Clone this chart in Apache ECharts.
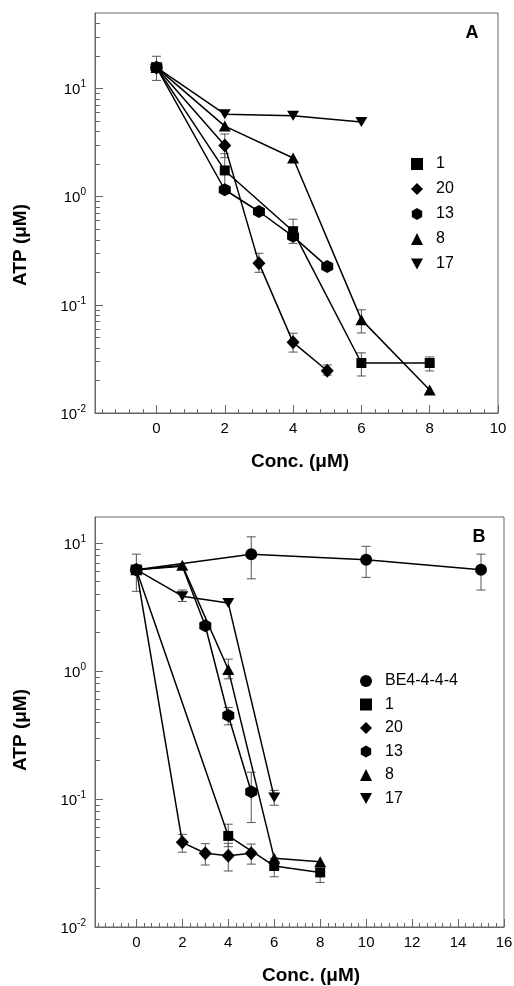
<!DOCTYPE html>
<html>
<head>
<meta charset="utf-8">
<script src="https://cdn.jsdelivr.net/npm/echarts@6/dist/echarts.min.js"></script>
<style>
html, body { margin: 0; padding: 0; background: #fff; }
#main { width: 514px; height: 986px; }
</style>
</head>
<body>
<div id="main"></div>
<script>
var chart = echarts.init(document.getElementById('main'));

// ---- panel A ----
var aX1 = [0, 2, 4, 6, 8];
var aY1 = [15.7, 1.75, 0.48, 0.029, 0.029];
var aE1 = [[11.9, 19.9], [1.25, 2.5], [0.37, 0.62], [0.022, 0.036], [0.0245, 0.033]];

var aX20 = [0, 2, 3, 4, 5];
var aY20 = [15.7, 2.97, 0.243, 0.045, 0.0246];
var aE20 = [null, [2.3, 3.8], [0.2, 0.3], [0.0366, 0.0547], [0.0224, 0.0278]];

var aX13 = [0, 2, 3, 4, 5];
var aY13 = [15.7, 1.16, 0.73, 0.43, 0.226];

var aX8 = [0, 2, 4, 6, 8];
var aY8 = [15.7, 4.5, 2.28, 0.073, 0.0163];
var aE8 = [null, null, null, [0.055, 0.09], null];

var aX17 = [0, 2, 4, 6];
var aY17 = [15.7, 5.8, 5.6, 4.9];

// ---- panel B ----
var bXBE = [0, 5, 10, 15];
var bYBE = [6.2, 8.2, 7.4, 6.2];
var bEBE = [[4.2, 8.2], [5.26, 11.2], [5.4, 9.44], [4.3, 8.2]];

var bX1 = [0, 4, 6, 8];
var bY1 = [6.2, 0.0515, 0.030, 0.0267];
var bE1 = [null, [0.0424, 0.0636], [0.0247, 0.0344], [0.0223, 0.0296]];

var bX20 = [0, 2, 3, 4, 5];
var bY20 = [6.2, 0.0459, 0.0377, 0.0361, 0.0377];
var bE20 = [null, [0.0384, 0.053], [0.0305, 0.0448], [0.0274, 0.0451], [0.031, 0.0445]];

var bX13 = [0, 2, 3, 4, 5];
var bY13 = [6.2, 6.6, 2.26, 0.45, 0.114];
var bE13 = [null, null, null, [0.38, 0.52], [0.0655, 0.162]];

var bX8 = [0, 2, 4, 6, 8];
var bY8 = [6.2, 6.7, 1.03, 0.0344, 0.0324];
var bE8 = [null, null, [0.87, 1.24], null, null];

var bX17 = [0, 2, 4, 6];
var bY17 = [6.2, 3.85, 3.4, 0.103];
var bE17 = [null, [3.5, 4.3], null, [0.0895, 0.117]];

// axis labels
var yLabelVals = [0.01, 0.1, 1, 10];
var xLabelsA = [0, 2, 4, 6, 8, 10];
var xLabelsB = [0, 2, 4, 6, 8, 10, 12, 14, 16];

var FONT = 'Liberation Sans, Arial, sans-serif';
var AXC = '#666';
var HEX = 'path://M5,0L9.33,2.5L9.33,7.5L5,10L0.67,7.5L0.67,2.5Z';
var TRI_DOWN = 'path://M0,0L10,0L5,9Z';

// log minor ticks: 2..9 times each decade
function logMinor(lo, hi) {
    var out = [];
    for (var d = -3; d <= 2; d++) {
        for (var k = 2; k <= 9; k++) {
            var v = k * Math.pow(10, d);
            if (v > lo && v < hi) out.push(v);
        }
    }
    return out;
}
function linMinor(lo, hi, step, major) {
    var out = [];
    for (var i = -20; i <= 100; i++) {
        var v = Math.round(i * step * 1000) / 1000;
        if (v > lo && v < hi && major.indexOf(v) < 0) out.push(v);
    }
    return out;
}

function pairs(xs, ys) {
    return xs.map(function (x, i) { return [x, ys[i]]; });
}
function errs(xs, es) {
    var out = [];
    xs.forEach(function (x, i) {
        if (es[i]) out.push([x, es[i][0], es[i][1]]);
    });
    return out;
}

function renderErr(params, api) {
    var x = api.value(0);
    var lo = api.coord([x, api.value(1)]);
    var hi = api.coord([x, api.value(2)]);
    var w = 4.5;
    var st = { stroke: '#555', lineWidth: 1 };
    return {
        type: 'group',
        children: [
            { type: 'line', shape: { x1: lo[0], y1: lo[1], x2: hi[0], y2: hi[1] }, style: st },
            { type: 'line', shape: { x1: lo[0] - w, y1: lo[1], x2: lo[0] + w, y2: lo[1] }, style: st },
            { type: 'line', shape: { x1: hi[0] - w, y1: hi[1], x2: hi[0] + w, y2: hi[1] }, style: st }
        ]
    };
}

// hideIdx: points that sit under another marker (line passes through, no symbol)
function lineSeries(name, gi, data, symbol, size, hideIdx) {
    return {
        name: name,
        type: 'line',
        xAxisIndex: gi * 2,
        yAxisIndex: gi * 2,
        data: data,
        symbol: symbol,
        symbolSize: function (val, params) {
            return hideIdx && hideIdx.indexOf(params.dataIndex) >= 0 ? 0 : size;
        },
        showAllSymbol: true,
        z: 3,
        lineStyle: { color: '#000', width: 1.5 },
        itemStyle: { color: '#000', borderWidth: 0 },
        emphasis: { disabled: true }
    };
}
function errSeries(gi, data) {
    return {
        type: 'custom',
        xAxisIndex: gi * 2,
        yAxisIndex: gi * 2,
        data: data,
        encode: { x: 0, y: [1, 2] },
        renderItem: renderErr,
        z: 2,
        silent: true
    };
}

function xAxes(gi, max, labels, minorStep) {
    return [
        {
            type: 'value', gridIndex: gi, min: -1.8, max: max, position: 'bottom',
            axisLine: { show: true, onZero: false, lineStyle: { color: AXC, width: 1 } },
            axisTick: { show: true, inside: true, length: 8, customValues: labels, lineStyle: { color: AXC } },
            axisLabel: { customValues: labels, margin: 8, color: '#000', fontSize: 15, fontFamily: FONT },
            splitLine: { show: false }
        },
        {
            type: 'value', gridIndex: gi, min: -1.8, max: max, position: 'bottom',
            axisLine: { show: false, onZero: false },
            axisTick: { show: true, inside: true, length: 4, customValues: linMinor(-1.8, max, minorStep, labels), lineStyle: { color: AXC } },
            axisLabel: { show: false },
            splitLine: { show: false }
        }
    ];
}
function yAxes(gi, max) {
    return [
        {
            type: 'log', gridIndex: gi, min: 0.01, max: max, logBase: 10, position: 'left',
            axisLine: { show: true, onZero: false, lineStyle: { color: AXC, width: 1 } },
            axisTick: { show: true, inside: true, length: 8, customValues: yLabelVals, lineStyle: { color: AXC } },
            axisLabel: {
                customValues: yLabelVals, margin: 9,
                formatter: function (v) {
                    return '{b|10}{s|' + Math.round(Math.log10(v)) + '}';
                },
                rich: {
                    b: { fontSize: 15, fontFamily: FONT, color: '#000', lineHeight: 18, verticalAlign: 'bottom' },
                    s: { fontSize: 10, fontFamily: FONT, color: '#000', lineHeight: 18, verticalAlign: 'top', padding: [0, 0, 6, 0] }
                }
            },
            splitLine: { show: false }
        },
        {
            type: 'log', gridIndex: gi, min: 0.01, max: max, logBase: 10, position: 'left',
            axisLine: { show: false, onZero: false },
            axisTick: { show: true, inside: true, length: 5, customValues: logMinor(0.01, max), lineStyle: { color: AXC } },
            axisLabel: { show: false },
            splitLine: { show: false }
        }
    ];
}

var txt = { fontFamily: FONT, fontWeight: 'bold', fill: '#000' };

var option = {
    animation: false,
    backgroundColor: '#fff',
    grid: [
        { left: 95, top: 13, width: 403, height: 400, show: true, borderColor: AXC, borderWidth: 1, containLabel: false, outerBoundsMode: 'none' },
        { left: 95, top: 517, width: 409, height: 410, show: true, borderColor: AXC, borderWidth: 1, containLabel: false, outerBoundsMode: 'none' }
    ],
    xAxis: xAxes(0, 10, xLabelsA, 0.4).concat(xAxes(1, 16, xLabelsB, 1 / 3)),
    yAxis: yAxes(0, 50).concat(yAxes(1, 16)),
    legend: [
        {
            orient: 'vertical', left: 406, top: 151, itemWidth: 12, itemHeight: 12, itemGap: 9,
            selectedMode: false,
            textStyle: { fontFamily: FONT, fontSize: 16, color: '#000', padding: [0, 0, 0, 8] },
            data: [
                { name: '1', icon: 'rect' },
                { name: '20', icon: 'diamond' },
                { name: '13', icon: HEX },
                { name: '8', icon: 'triangle' },
                { name: '17', icon: TRI_DOWN }
            ]
        },
        {
            orient: 'vertical', left: 355, top: 668, itemWidth: 12, itemHeight: 12, itemGap: 7.5,
            selectedMode: false,
            textStyle: { fontFamily: FONT, fontSize: 16, color: '#000', padding: [0, 0, 0, 8] },
            data: [
                { name: 'BE4-4-4-4', icon: 'circle' },
                { name: '1', icon: 'rect' },
                { name: '20', icon: 'diamond' },
                { name: '13', icon: HEX },
                { name: '8', icon: 'triangle' },
                { name: '17', icon: TRI_DOWN }
            ]
        }
    ],
    graphic: [
        { type: 'text', x: 472, y: 33, style: Object.assign({ text: 'A', fontSize: 18, align: 'center', verticalAlign: 'middle' }, txt) },
        { type: 'text', x: 479, y: 537, style: Object.assign({ text: 'B', fontSize: 18, align: 'center', verticalAlign: 'middle' }, txt) },
        { type: 'text', x: 300, y: 462, style: Object.assign({ text: 'Conc. (μM)', fontSize: 19, align: 'center', verticalAlign: 'middle' }, txt) },
        { type: 'text', x: 311, y: 976, style: Object.assign({ text: 'Conc. (μM)', fontSize: 19, align: 'center', verticalAlign: 'middle' }, txt) },
        { type: 'text', x: 21, y: 245, rotation: Math.PI / 2, style: Object.assign({ text: 'ATP (μM)', fontSize: 19, align: 'center', verticalAlign: 'middle' }, txt) },
        { type: 'text', x: 21, y: 730, rotation: Math.PI / 2, style: Object.assign({ text: 'ATP (μM)', fontSize: 19, align: 'center', verticalAlign: 'middle' }, txt) }
    ],
    series: [
        errSeries(0, errs(aX1, aE1)),
        errSeries(0, errs(aX20, aE20)),
        errSeries(0, errs(aX8, aE8)),
        lineSeries('17', 0, pairs(aX17, aY17), TRI_DOWN, [12, 10]),
        lineSeries('8', 0, pairs(aX8, aY8), 'triangle', [12, 11]),
        lineSeries('13', 0, pairs(aX13, aY13), HEX, [12, 13]),
        lineSeries('20', 0, pairs(aX20, aY20), 'diamond', [13, 14]),
        lineSeries('1', 0, pairs(aX1, aY1), 'rect', [10, 10]),

        errSeries(1, errs(bXBE, bEBE)),
        errSeries(1, errs(bX1, bE1)),
        errSeries(1, errs(bX20, bE20)),
        errSeries(1, errs(bX13, bE13)),
        errSeries(1, errs(bX8, bE8)),
        errSeries(1, errs(bX17, bE17)),
        lineSeries('17', 1, pairs(bX17, bY17), TRI_DOWN, [12, 10]),
        lineSeries('13', 1, pairs(bX13, bY13), HEX, [12, 13], [1]),
        lineSeries('8', 1, pairs(bX8, bY8), 'triangle', [12, 11]),
        lineSeries('20', 1, pairs(bX20, bY20), 'diamond', [13, 14]),
        lineSeries('1', 1, pairs(bX1, bY1), 'rect', [10, 10]),
        lineSeries('BE4-4-4-4', 1, pairs(bXBE, bYBE), 'circle', 12)
    ]
};

chart.setOption(option);

window.addEventListener('resize', function () {
    chart.resize();
});
</script>
</body>
</html>
